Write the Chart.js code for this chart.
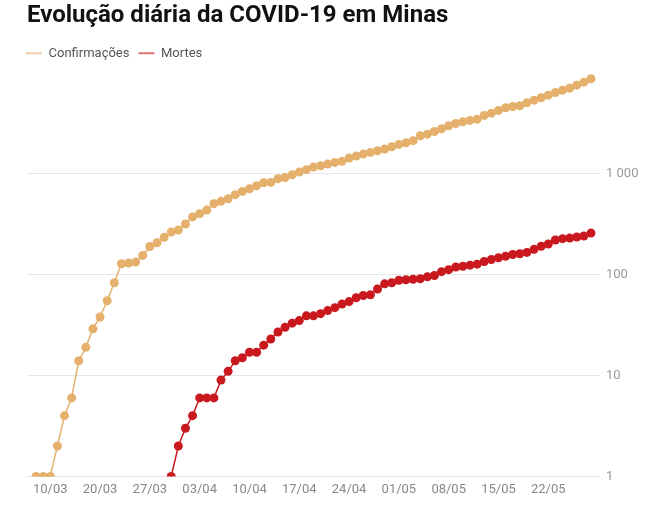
<!DOCTYPE html>
<html lang="pt-BR">
<head>
<meta charset="utf-8">
<title>Evolução diária da COVID-19 em Minas</title>
<script src="https://cdn.jsdelivr.net/npm/chart.js@4.4.1/dist/chart.umd.min.js"></script>
<style>
  html, body { margin: 0; padding: 0; background: #fff; }
  #box { width: 645px; height: 505px; }
</style>
</head>
<body>
<div id="box"><canvas id="grafico"></canvas></div>
<script>
// Datas de cada registro (eixo x)
const datas = [
  "08/03", "09/03", "10/03", "12/03", "14/03", "15/03", "16/03", "17/03", "18/03",
  "20/03", "21/03", "22/03", "23/03", "24/03", "25/03", "26/03", "27/03", "28/03",
  "29/03", "30/03", "31/03", "01/04", "02/04", "03/04", "04/04", "05/04", "06/04",
  "07/04", "08/04", "09/04", "10/04", "11/04", "12/04", "13/04", "14/04", "15/04",
  "16/04", "17/04", "18/04", "19/04", "20/04", "21/04", "22/04", "23/04", "24/04",
  "25/04", "26/04", "27/04", "28/04", "29/04", "30/04", "01/05", "02/05", "03/05",
  "04/05", "05/05", "06/05", "07/05", "08/05", "09/05", "10/05", "11/05", "12/05",
  "13/05", "14/05", "15/05", "16/05", "17/05", "18/05", "19/05", "20/05", "21/05",
  "22/05", "23/05", "24/05", "25/05", "26/05", "27/05", "28/05"
];

// Casos confirmados acumulados
const confirmacoes = [
  1, 1, 1, 2, 4, 6, 14, 19, 29,
  38, 55, 83, 128, 130, 133, 155, 190, 207,
  234, 264, 277, 317, 373, 402, 436, 505, 532,
  565, 620, 668, 710, 760, 815, 820, 892, 918,
  977, 1038, 1096, 1162, 1200, 1245, 1294, 1326, 1427,
  1494, 1564, 1626, 1690, 1753, 1851, 1951, 2028, 2124,
  2377, 2466, 2623, 2791, 2988, 3148, 3273, 3373, 3474,
  3779, 3983, 4236, 4501, 4638, 4711, 5045, 5352, 5653,
  6000, 6383, 6733, 7047, 7540, 8075, 8730
];

// Mortes acumuladas (sem registro antes de 30/03)
const mortes = [
  null, null, null, null, null, null, null, null, null,
  null, null, null, null, null, null, null, null, null,
  null, 1, 2, 3, 4, 6, 6, 6, 9,
  11, 14, 15, 17, 17, 20, 23, 27, 30,
  33, 35, 39, 39, 41, 44, 47, 51, 54,
  59, 62, 63, 72, 81, 83, 88, 89, 90,
  91, 95, 98, 107, 112, 119, 121, 124, 127,
  135, 141, 147, 152, 158, 161, 166, 178, 191,
  201, 220, 227, 230, 236, 241, 258
];

const rotulosX = ["10/03", "20/03", "27/03", "03/04", "10/04", "17/04", "24/04", "01/05", "08/05", "15/05", "22/05"];
const ticksY = [1, 10, 100, 1000];

const corConfirmacoes = "#e5b06b";
const corMortes = "#c9191f";

function pontos(serie) {
  return serie.map((v, i) => ({ x: i, y: v }));
}

function formatarMilhar(v) {
  return String(v).replace(/\B(?=(\d{3})+(?!\d))/g, " ");
}

// Ajuste fino da legenda: encosta à esquerda e dá um respiro embaixo
const ajusteLegenda = {
  id: "ajusteLegenda",
  beforeInit(chart) {
    const fitOriginal = chart.legend.fit;
    chart.legend.fit = function () {
      fitOriginal.bind(chart.legend)();
      this.height += 3;
    };
  },
  afterLayout(chart) {
    chart.legend.left -= 10;
    chart.legend.right -= 10;
  }
};

const ctx = document.getElementById("grafico").getContext("2d");

new Chart(ctx, {
  type: "line",
  data: {
    datasets: [
      {
        label: "Confirmações",
        data: pontos(confirmacoes),
        borderColor: corConfirmacoes,
        backgroundColor: corConfirmacoes,
        borderWidth: 1.5,
        pointRadius: 4.5,
        pointBorderWidth: 0,
        tension: 0
      },
      {
        label: "Mortes",
        data: pontos(mortes),
        borderColor: corMortes,
        backgroundColor: corMortes,
        borderWidth: 1.5,
        pointRadius: 4.5,
        pointBorderWidth: 0,
        tension: 0
      }
    ]
  },
  plugins: [ajusteLegenda],
  options: {
    responsive: true,
    maintainAspectRatio: false,
    animation: false,
    layout: { padding: { left: 27, right: 5, top: 0, bottom: 1 } },
    plugins: {
      title: {
        display: true,
        text: "Evolução diária da COVID-19 em Minas",
        align: "start",
        color: "#111",
        font: { family: "Roboto", size: 24, weight: "bold" },
        padding: { top: 2, bottom: 7 }
      },
      legend: {
        align: "start",
        labels: {
          boxWidth: 16,
          boxHeight: 2,
          padding: 9,
          color: "#555",
          font: { family: "Roboto", size: 13 },
          generateLabels: chart => {
            const cores = ["rgba(229,176,107,0.6)", "rgba(201,25,31,0.6)"];
            return Chart.defaults.plugins.legend.labels.generateLabels(chart).map(l => ({
              ...l, fillStyle: cores[l.datasetIndex], strokeStyle: "transparent", lineWidth: 0
            }));
          }
        }
      },
      tooltip: { enabled: false }
    },
    scales: {
      x: {
        type: "linear",
        min: -1.27,
        max: 79.27,
        grid: { display: false, drawTicks: false },
        border: { display: false },
        afterBuildTicks: axis => {
          axis.ticks = rotulosX.map(r => ({ value: datas.indexOf(r) }));
        },
        ticks: {
          padding: 6,
          color: "#888",
          font: { family: "Roboto", size: 13 },
          maxRotation: 0,
          autoSkip: false,
          callback: v => datas[v]
        }
      },
      y: {
        type: "logarithmic",
        position: "right",
        min: 1,
        max: 10000,
        afterBuildTicks: axis => {
          axis.ticks = ticksY.map(v => ({ value: v }));
        },
        afterFit: axis => { axis.width = 40; },
        grid: { color: "#e6e6e6", drawTicks: false },
        border: { display: false },
        ticks: {
          padding: 6,
          color: "#999",
          font: { family: "Roboto", size: 13 },
          callback: v => formatarMilhar(v)
        }
      }
    }
  }
});
</script>
</body>
</html>
